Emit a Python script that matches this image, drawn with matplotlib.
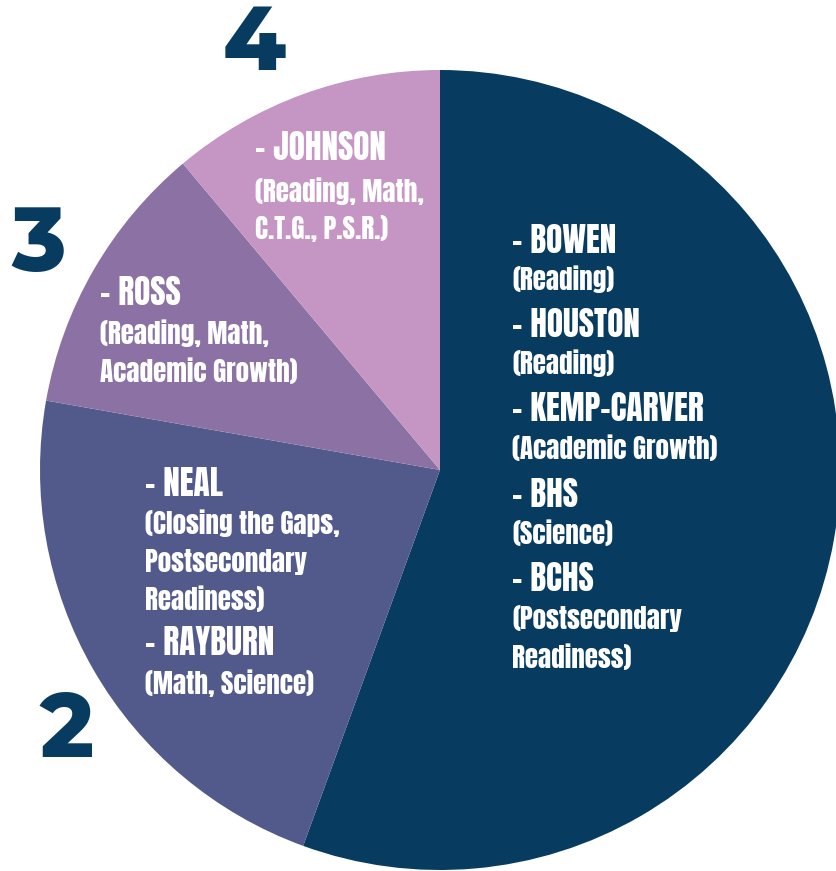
import matplotlib
matplotlib.use("Agg")
import matplotlib.pyplot as plt
from matplotlib import font_manager

# ---- data ----
counts = [5, 2, 1, 1]                  # schools per slice
colors = ["#073B5F", "#525A8C", "#8C72A4", "#C596C4"]
outer_labels = ["4", "3", "2"]
slice1_lines = ["- BOWEN", "(Reading)", "- HOUSTON", "(Reading)", "- KEMP-CARVER",
                "(Academic Growth)", "- BHS", "(Science)", "- BCHS",
                "(Postsecondary", "Readiness)"]
slice2_lines = ["- NEAL", "(Closing the Gaps,", "Postsecondary", "Readiness)",
                "- RAYBURN", "(Math, Science)"]
slice3_lines = ["- ROSS", "(Reading, Math,", "Academic Growth)"]
slice4_lines = ["- JOHNSON", "(Reading, Math,", "C.T.G., P.S.R.)"]

W, H = 836, 871
fig = plt.figure(figsize=(W / 100, H / 100), dpi=100)

pax = fig.add_axes([0, 0, 1, 1])
pax.pie(counts, colors=colors, startangle=90, counterclock=False,
        center=(440, H - 470), radius=400, frame=True,
        wedgeprops=dict(linewidth=0))
pax.set_xlim(0, W)
pax.set_ylim(0, H)
pax.set_aspect("auto")
pax.axis("off")

avail = {f.name for f in font_manager.fontManager.ttflist}
cond = "Anton" if "Anton" in avail else ("Oswald" if "Oswald" in avail else "DejaVu Sans")
numfont = "Montserrat Alternates" if "Montserrat Alternates" in avail else "Open Sans"

tax = fig.add_axes([0, 0, 1, 1])
tax.set_xlim(0, W)
tax.set_ylim(H, 0)
tax.axis("off")

def block(lines, x, ys):
    for line, y in zip(lines, ys):
        head = line.startswith("-")
        tax.text(x, y, line, color="white", family=[cond, "DejaVu Sans"],
                 fontsize=24 if head else 19.5,
                 ha="left", va="center_baseline")

block(slice1_lines, 512, [238, 278, 322, 362, 406, 447, 492, 532, 576, 617, 656])
block(slice2_lines, 145, [481, 522, 560, 598, 640, 682])
block(slice3_lines, 100, [290, 332, 370])
block(slice4_lines, 255, [146, 190, 227])

for lab, (x, y) in zip(outer_labels, [(254, 45), (39, 246), (67, 732)]):
    tax.text(x, y, lab, color="#073B5F", family=[numfont, "DejaVu Sans"],
             fontweight=800, fontsize=65, ha="center", va="center")

fig.savefig("out.png", dpi=100)
